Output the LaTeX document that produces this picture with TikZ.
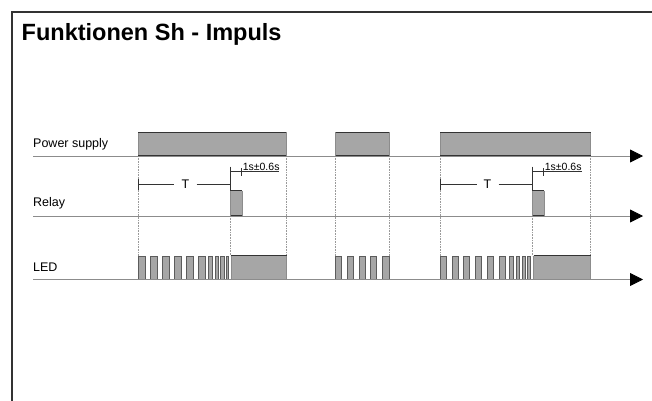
\documentclass[tikz,border=0pt]{standalone}
\usepackage{fontspec}
\setmainfont{Liberation Sans}
\usetikzlibrary{arrows.meta}
\definecolor{barfill}{HTML}{A6A6A6}
\definecolor{edgec}{HTML}{333333}
\definecolor{axisc}{HTML}{8C8C8C}
\definecolor{dotc}{HTML}{9A9A9A}
\newcommand{\tbar}[4]{%
  \fill[barfill] (#1,#2) rectangle (#3,#4);
  \draw[sideline] (#1,#2) -- (#1,#4) (#3,#2) -- (#3,#4);
  \draw[edgeline] (#1,#2) -- (#3,#2) (#1,#4) -- (#3,#4);}
\begin{document}
\begin{tikzpicture}[x=1pt,y=-1pt,
  axisline/.style={draw=axisc,line width=0.8pt,-{Triangle[length=13pt,width=13pt,color=black]}},
  sideline/.style={draw=axisc,line width=0.6pt},
  edgeline/.style={draw=edgec,line width=1.4pt},
  pulse/.style={fill=barfill,draw=edgec!80,line width=0.7pt},
  guide/.style={draw=dotc,line width=0.6pt,densely dotted},
  dimline/.style={draw=edgec,line width=0.9pt},
  lbl/.style={font=\fontsize{12.5}{14}\selectfont,anchor=base west,inner sep=0pt},
  small/.style={font=\fontsize{10.5}{12}\selectfont,inner sep=0pt}]
\useasboundingbox (0,0) rectangle (652,400);
\fill[white] (0,0) rectangle (652,400);
% frame
\draw[edgec,line width=1.4pt] (12,401) -- (12,12) -- (653,12);
% title
\node[font=\bfseries\fontsize{23.5}{26}\selectfont,anchor=base west,inner sep=0pt] (title) at (21.5,40.5) {Funktionen Sh - Impuls};
% labels
\node[lbl] (ps) at (33,147.5) {Power supply};
\node[lbl] (rel) at (33,206.3) {Relay};
\node[lbl] (led) at (33,271.2) {LED};
% axes
\coordinate (psA) at (33,156); \coordinate (psB) at (643,156);
\coordinate (reA) at (33,216); \coordinate (reB) at (643,216);
\coordinate (leA) at (33,279.5); \coordinate (leB) at (643,279.5);
% guides
\foreach \x in {138.3,286,335.7,389,440.3,590.7}
  \draw[guide] (\x,156) -- (\x,256);
\foreach \x in {230.7,532.7}
  \draw[guide] (\x,216) -- (\x,256);
% power supply bars
\tbar{138.3}{132.3}{286}{155.7}
\tbar{335.7}{132.3}{389}{155.7}
\tbar{440.3}{132.3}{590.7}{155.7}
% relay bars
\tbar{230.7}{190.7}{242.3}{215.7}
\tbar{532.7}{190.7}{544.3}{215.7}
% LED long bars
\tbar{231}{255.7}{286.7}{279.3}
\tbar{533.7}{255.7}{590.7}{279.3}
% LED pulses
\foreach \a/\b in {138.3/145.7,150.3/157,162.3/169,174.3/181,186.3/193,198.3/205,208.3/212.3,215/218.3,220.7/224,226/228.7,
  335.7/341.7,347.3/353.3,359/365,370.7/376.7,382.7/389.3,
  440.3/446.3,452/458,463.7/469.7,475.7/481.7,487.7/493.7,499.7/505.7,509.7/513.7,516.3/519.7,522/525.3,527.7/530.7}
  \draw[pulse] (\a,256.2) rectangle (\b,279.3);
% axis lines
\draw[axisline] (psA) -- (psB);
\draw[axisline] (reA) -- (reB);
\draw[axisline] (leA) -- (leB);
% dimensions, group 1
\node[font=\fontsize{12.5}{14}\selectfont,inner sep=0pt] (T1) at (185.5,184.6) {T};
\coordinate (t1L) at (138.3,184.3); \coordinate (t1R) at (230.7,184.3);
\draw[dimline] (138.3,179) -- (138.3,190);
\draw[dimline] (t1L) -- (174,184.3);
\draw[dimline] (196.5,184.3) -- (t1R);
\draw[dimline] (230.7,166.7) -- (230.7,190.7);
\draw[dimline] (230.7,171.7) -- (279.3,171.7);
\draw[dimline] (241.7,168) -- (241.7,176);
\node[small,anchor=base west] (d1) at (242.6,170.2) {1s±0.6s};
% dimensions, group 2
\node[font=\fontsize{12.5}{14}\selectfont,inner sep=0pt] (T2) at (487.5,184.6) {T};
\coordinate (t2L) at (440.3,184.3); \coordinate (t2R) at (532.7,184.3);
\draw[dimline] (440.3,179) -- (440.3,190);
\draw[dimline] (t2L) -- (476.5,184.3);
\draw[dimline] (498.5,184.3) -- (t2R);
\draw[dimline] (532.7,166.7) -- (532.7,190.7);
\draw[dimline] (532.7,171.7) -- (581.7,171.7);
\draw[dimline] (543.7,168) -- (543.7,176);
\node[small,anchor=base west] (d2) at (544.6,170.2) {1s±0.6s};
\end{tikzpicture}
\end{document}
